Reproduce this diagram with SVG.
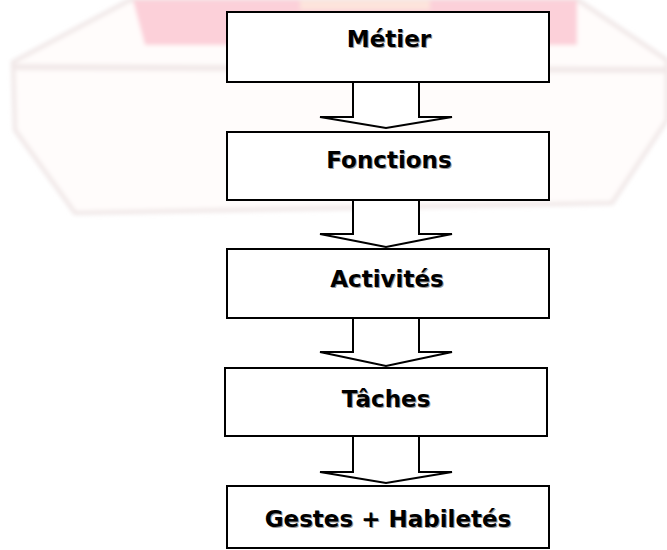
<svg xmlns="http://www.w3.org/2000/svg" width="667" height="550" viewBox="0 0 667 550">
  <defs>
    <filter id="blur" x="-10%" y="-10%" width="120%" height="120%">
      <feGaussianBlur stdDeviation="2"/>
    </filter>
    <style>
      .box { fill: #ffffff; stroke: #000000; stroke-width: 2; }
      .arrow { fill: #ffffff; stroke: #000000; stroke-width: 2; stroke-linejoin: miter; }
      .lbl { font-family: "DejaVu Sans", Verdana, sans-serif; font-weight: bold; font-size: 23px; text-anchor: middle; fill: #000000; }
      .shadow { fill: #9a9a9a; }
    </style>
  </defs>
  <rect width="667" height="550" fill="#ffffff"/>
  <g id="watermark" filter="url(#blur)">
    <path d="M130,0 L578,0 L667,60 L667,120 L612,203 L75,213 L15,130 L13,62 Z" fill="#fffcfb" stroke="#efe6e6" stroke-width="4"/>
    <path d="M14,67 L667,70" fill="none" stroke="#f1e8e8" stroke-width="6"/>
    <path d="M133,0 L577,0 L577,45 L145,45 Z" fill="#fcd0d9"/>
    <rect x="300" y="0" width="130" height="10" fill="#fde4dc"/>
  </g>
  <g id="connectors">
    <path class="arrow" d="M353,82 L353,117 L320,117 L386,128 L452,117 L419,117 L419,82"/>
    <path class="arrow" d="M353,200 L353,234 L320,234 L386,247 L452,234 L419,234 L419,200"/>
    <path class="arrow" d="M353,318 L353,352 L320,352 L386,366 L452,352 L419,352 L419,318"/>
    <path class="arrow" d="M353,436 L353,472 L320,472 L386,483 L452,472 L419,472 L419,436"/>
  </g>
  <g id="metier">
    <rect class="box" x="227" y="12" width="322" height="70"/>
    <text class="lbl shadow" x="390" y="48">Métier</text>
    <text class="lbl" x="389" y="47">Métier</text>
  </g>
  <g id="fonctions">
    <rect class="box" x="227" y="132" width="322" height="68"/>
    <text class="lbl shadow" x="390" y="169">Fonctions</text>
    <text class="lbl" x="389" y="168">Fonctions</text>
  </g>
  <g id="activites">
    <rect class="box" x="227" y="249" width="322" height="69"/>
    <text class="lbl shadow" x="388" y="288">Activités</text>
    <text class="lbl" x="387" y="287">Activités</text>
  </g>
  <g id="taches">
    <rect class="box" x="225" y="368" width="322" height="68"/>
    <text class="lbl shadow" x="387" y="408">Tâches</text>
    <text class="lbl" x="386" y="407">Tâches</text>
  </g>
  <g id="gestes">
    <rect class="box" x="227" y="486" width="322" height="62"/>
    <text class="lbl shadow" x="389" y="528">Gestes + Habiletés</text>
    <text class="lbl" x="388" y="527">Gestes + Habiletés</text>
  </g>
</svg>
